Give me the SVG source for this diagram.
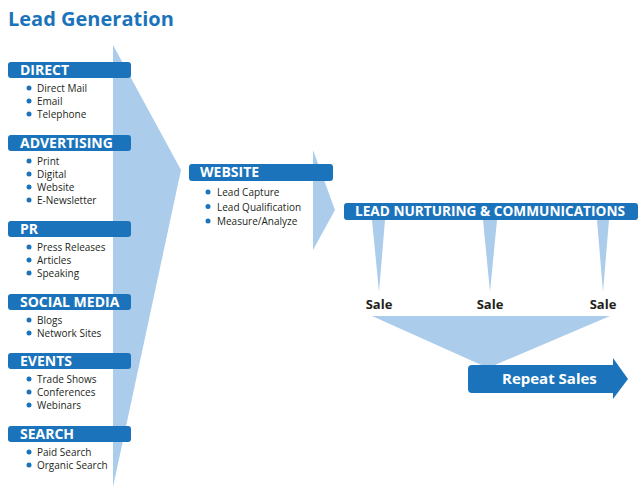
<svg xmlns="http://www.w3.org/2000/svg" width="640" height="488" viewBox="0 0 640 488">
<style>
.bg{fill:#ffffff}
.wedge{fill:#abcdeb}
.box{fill:#1b74bb}
.hd{font-family:"Open Sans","Liberation Sans",sans-serif;font-weight:bold;font-size:14px;fill:#ffffff}
.it{font-family:"Open Sans","Liberation Sans",sans-serif;font-size:10px;fill:#231f20}
.dot{fill:#1b74bb}
.sale{font-family:"Open Sans","Liberation Sans",sans-serif;font-weight:bold;font-size:13px;fill:#231f20;text-anchor:middle}
.title{font-family:"Open Sans","Liberation Sans",sans-serif;font-weight:bold;font-size:20px;fill:#1b74bb}
</style>
<rect class="bg" width="640" height="488"/>
<text class="title" x="8" y="26">Lead Generation</text>
<g id="connectors">
<polygon class="wedge" points="113,45 181,170 113,487"/>
<polygon class="wedge" points="313,150 335,210 313,250"/>
<polygon class="wedge" points="372,220 385,220 379,292"/>
<polygon class="wedge" points="483,220 497,220 490,292"/>
<polygon class="wedge" points="597,220 609,220 603,292"/>
<polygon class="wedge" points="372,316 610,316 488,368"/>
</g>
<g id="direct">
<rect class="box" x="8" y="62" width="123" height="16" rx="3"/>
<text class="hd" x="20" y="75">DIRECT</text>
<circle class="dot" cx="29" cy="88" r="2.5"/><text class="it" x="37" y="92">Direct Mail</text>
<circle class="dot" cx="29" cy="101" r="2.5"/><text class="it" x="37" y="105">Email</text>
<circle class="dot" cx="29" cy="114" r="2.5"/><text class="it" x="37" y="118">Telephone</text>
</g>
<g id="advertising">
<rect class="box" x="8" y="135" width="123" height="16" rx="3"/>
<text class="hd" x="20" y="148">ADVERTISING</text>
<circle class="dot" cx="29" cy="161" r="2.5"/><text class="it" x="37" y="165">Print</text>
<circle class="dot" cx="29" cy="174" r="2.5"/><text class="it" x="37" y="178">Digital</text>
<circle class="dot" cx="29" cy="187" r="2.5"/><text class="it" x="37" y="191">Website</text>
<circle class="dot" cx="29" cy="200" r="2.5"/><text class="it" x="37" y="204">E-Newsletter</text>
</g>
<g id="pr">
<rect class="box" x="8" y="221" width="123" height="16" rx="3"/>
<text class="hd" x="20" y="234">PR</text>
<circle class="dot" cx="29" cy="247" r="2.5"/><text class="it" x="37" y="251">Press Releases</text>
<circle class="dot" cx="29" cy="260" r="2.5"/><text class="it" x="37" y="264">Articles</text>
<circle class="dot" cx="29" cy="273" r="2.5"/><text class="it" x="37" y="277">Speaking</text>
</g>
<g id="social-media">
<rect class="box" x="8" y="294" width="123" height="16" rx="3"/>
<text class="hd" x="20" y="307">SOCIAL MEDIA</text>
<circle class="dot" cx="29" cy="320" r="2.5"/><text class="it" x="37" y="324">Blogs</text>
<circle class="dot" cx="29" cy="333" r="2.5"/><text class="it" x="37" y="337">Network Sites</text>
</g>
<g id="events">
<rect class="box" x="8" y="353" width="123" height="16" rx="3"/>
<text class="hd" x="20" y="366">EVENTS</text>
<circle class="dot" cx="29" cy="379" r="2.5"/><text class="it" x="37" y="383">Trade Shows</text>
<circle class="dot" cx="29" cy="392" r="2.5"/><text class="it" x="37" y="396">Conferences</text>
<circle class="dot" cx="29" cy="405" r="2.5"/><text class="it" x="37" y="409">Webinars</text>
</g>
<g id="search">
<rect class="box" x="8" y="426" width="123" height="16" rx="3"/>
<text class="hd" x="20" y="439">SEARCH</text>
<circle class="dot" cx="29" cy="452" r="2.5"/><text class="it" x="37" y="456">Paid Search</text>
<circle class="dot" cx="29" cy="465" r="2.5"/><text class="it" x="37" y="469">Organic Search</text>
</g>
<g id="website">
<rect class="box" x="189" y="164" width="144" height="17" rx="3"/>
<text class="hd" x="200" y="177">WEBSITE</text>
<circle class="dot" cx="208" cy="192" r="2.5"/><text class="it" x="217" y="196">Lead Capture</text>
<circle class="dot" cx="208" cy="206.5" r="2.5"/><text class="it" x="217" y="210.5">Lead Qualification</text>
<circle class="dot" cx="208" cy="221" r="2.5"/><text class="it" x="217" y="225">Measure/Analyze</text>
</g>
<g id="lead-nurturing">
<rect class="box" x="344" y="203" width="294" height="17" rx="3"/>
<text class="hd" x="355" y="216" textLength="270" lengthAdjust="spacingAndGlyphs">LEAD NURTURING &amp; COMMUNICATIONS</text>
</g>
<g id="sale1"><text class="sale" x="379" y="309">Sale</text></g>
<g id="sale2"><text class="sale" x="490" y="309">Sale</text></g>
<g id="sale3"><text class="sale" x="603" y="309">Sale</text></g>
<g id="repeat-sales">
<path class="box" d="M472,365 H613 V358 L628,379 L613,399 V393 H472 Q468,393 468,389 V369 Q468,365 472,365 Z"/>
<text class="hd" x="502" y="384" style="font-size:15px">Repeat Sales</text>
</g>
</svg>
